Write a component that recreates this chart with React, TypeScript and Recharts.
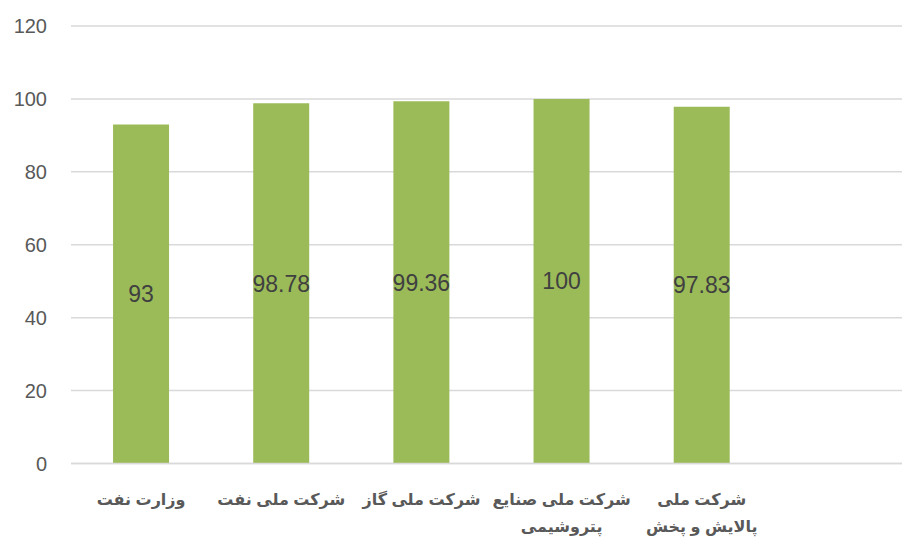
import React from 'react';
import { BarChart, Bar, XAxis, YAxis, CartesianGrid, LabelList } from 'recharts';

// دسته‌ها (با \n برای شکست خط) و مقادیر
const categories = [
  'وزارت نفت',
  'شرکت ملی نفت',
  'شرکت ملی گاز',
  'شرکت ملی صنایع\nپتروشیمی',
  'شرکت ملی\nپالایش و پخش',
  '',
];
const values: (number | null)[] = [93, 98.78, 99.36, 100, 97.83, null];
const yTicks = [0, 20, 40, 60, 80, 100, 120];

const data = categories.map((name, i) => ({ name, value: values[i] }));

const BAR_COLOR = '#9bbb59';
const GRID_COLOR = '#d9d9d9';
const FONT = "Arial, 'Liberation Sans', 'DejaVu Sans', sans-serif";

const CategoryTick = (props: any) => {
  const { x, y, payload } = props;
  const lines = String(payload.value).split('\n');
  return (
    <text
      x={x}
      y={y}
      textAnchor="middle"
      fill="#595959"
      fontSize={16}
      fontWeight="bold"
      fontFamily={FONT}
    >
      {lines.map((line, i) => (
        <tspan key={i} x={x} dy={i === 0 ? 33 : 27}>
          {line}
        </tspan>
      ))}
    </text>
  );
};

export default function App() {
  return (
    <div
      style={{
        position: 'fixed',
        left: 0,
        top: 0,
        width: 902,
        height: 543,
        overflow: 'hidden',
        background: '#fff',
      }}
    >
      <BarChart
        width={912}
        height={543}
        data={data}
        margin={{ top: 26, right: 0, bottom: 0, left: 0 }}
        barCategoryGap="30%"
      >
        <CartesianGrid vertical={false} stroke={GRID_COLOR} strokeWidth={1.5} />
        <XAxis
          dataKey="name"
          height={79.5}
          axisLine={{ stroke: GRID_COLOR, strokeWidth: 1.5 }}
          tickLine={false}
          interval={0}
          tick={<CategoryTick />}
        />
        <YAxis
          width={71}
          domain={[0, 120]}
          ticks={yTicks}
          axisLine={false}
          tickLine={false}
          tickSize={0}
          tickMargin={24}
          tick={{ fill: '#595959', fontSize: 20, fontFamily: FONT }}
        />
        <Bar dataKey="value" fill={BAR_COLOR} isAnimationActive={false}>
          <LabelList
            dataKey="value"
            position="center"
            fill="#404040"
            fontSize={23}
            fontFamily={FONT}
          />
        </Bar>
      </BarChart>
    </div>
  );
}
